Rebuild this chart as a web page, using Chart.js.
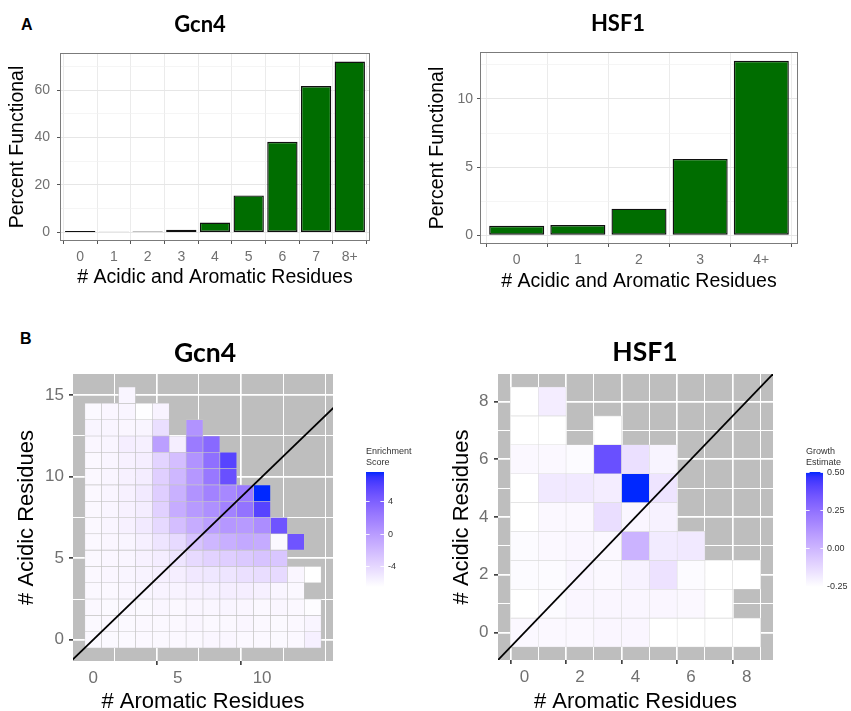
<!DOCTYPE html>
<html>
<head>
<meta charset="utf-8">
<script src="https://cdn.jsdelivr.net/npm/chart.js@4.4.1/dist/chart.umd.min.js"></script>
<style>
  html, body { margin: 0; padding: 0; background: #fff; }
  body { width: 851px; height: 711px; position: relative; overflow: hidden; }
  canvas { position: absolute; }
  .tag { position: absolute; font-family: "Liberation Sans", Arial, sans-serif; font-weight: bold;
         font-size: 16px; line-height: 1; color: #000; }
</style>
</head>
<body>
<div class="tag" style="left:21px;top:17px">A</div>
<div class="tag" style="left:20px;top:331px">B</div>

<canvas id="barGcn4" width="425" height="300" style="left:0;top:0"></canvas>
<canvas id="barHsf1" width="426" height="300" style="left:425px;top:0"></canvas>
<canvas id="heatGcn4" width="360" height="411" style="left:0;top:300px"></canvas>
<canvas id="heatHsf1" width="375" height="411" style="left:425px;top:300px"></canvas>
<canvas id="keyGcn4" width="60" height="160" style="left:360px;top:440px"></canvas>
<canvas id="keyHsf1" width="51" height="160" style="left:800px;top:440px"></canvas>

<script>
// ---------------- data ----------------
// Panel A: percent of functional sequences by number of acidic + aromatic residues
const gcn4Counts = ['0', '1', '2', '3', '4', '5', '6', '7', '8+'];
const gcn4Functional = [0.6, 0.3, 0.4, 1.1, 4.2, 15.6, 38.2, 61.7, 72.0];
const gcn4PercentMajor = [0, 20, 40, 60];
const gcn4PercentMinor = [10, 30, 50, 70];

const hsf1Counts = ['0', '1', '2', '3', '4+'];
const hsf1Functional = [0.7, 0.75, 1.95, 5.6, 12.8];
const hsf1PercentMajor = [0, 5, 10];
const hsf1PercentMinor = [2.5, 7.5, 12.5];

// Panel B: Gcn4 enrichment score, rows = # acidic (0..15), columns = # aromatic (0..13)
const gcn4Aromatic = [0, 1, 2, 3, 4, 5, 6, 7, 8, 9, 10, 11, 12, 13];
const gcn4Acidic = [0, 1, 2, 3, 4, 5, 6, 7, 8, 9, 10, 11, 12, 13, 14, 15];
const gcn4Enrichment = [
  [-6.1, -6.1, -6.1, -6.0, -6.0, -6.0, -6.0, -5.9, -5.9, -6.0, -6.0, -6.1, -6.0, -5.5],
  [-6.1, -6.0, -6.1, -6.0, -6.0, -6.0, -5.9, -6.0, -6.0, -5.9, -6.0, -6.1, -6.0, -5.8],
  [-6.0, -6.1, -6.0, -6.1, -5.9, -6.0, -5.9, -5.9, -5.8, -5.9, -6.0, -5.9, -6.0, -6.3],
  [-6.0, -6.0, -5.9, -5.8, -5.7, -5.7, -5.6, -5.5, -5.4, -5.4, -5.5, -5.8, -6.0, null],
  [-6.0, -5.9, -5.8, -5.7, -5.5, -5.4, -5.0, -4.9, -4.8, -4.5, -4.3, -4.1, -5.9, -6.46],
  [-6.0, -5.9, -5.8, -5.6, -5.3, -4.8, -4.1, -3.6, -3.3, -3.0, -2.6, -2.8, null, null],
  [-6.0, -5.9, -5.8, -5.5, -4.8, -4.1, -2.6, -1.8, -1.3, -0.9, -1.0, -6.1, 4.8, null],
  [-6.0, -5.8, -5.6, -5.1, -4.0, -2.3, -1.1, -0.2, 0.3, 0.1, 1.0, 4.8, null, null],
  [-6.0, -5.8, -5.6, -5.3, -3.5, -1.1, 0.1, 0.8, 1.7, 2.7, 5.9, null, null, null],
  [-6.0, -5.8, -5.6, -5.1, -3.3, -1.4, 0.6, 1.7, 1.3, 2.2, 7.62, null, null, null],
  [-6.0, -5.8, -5.6, -5.3, -3.4, -1.8, 0.3, 2.4, 5.1, null, null, null, null, null],
  [-6.0, -5.8, -5.6, -5.4, -3.7, -2.3, 0.6, 3.0, 5.9, null, null, null, null, null],
  [-5.9, -5.8, -5.4, -5.5, -0.2, -5.4, 2.2, 3.4, null, null, null, null, null, null],
  [-5.8, -5.8, -5.9, -5.8, -4.4, null, 0.6, null, null, null, null, null, null, null],
  [-6.1, -5.9, -5.8, -6.4, -5.7, null, null, null, null, null, null, null, null, null],
  [null, null, -5.8, null, null, null, null, null, null, null, null, null, null, null]
];
const gcn4AxisMajor = [0, 5, 10, 15];
const gcn4AxisMinor = [2.5, 7.5, 12.5];
const gcn4ScoreTicks = [-4, 0, 4];

// Panel B: HSF1 growth estimate, rows = # acidic (0..8), columns = # aromatic (0..8)
const hsf1Aromatic = [0, 1, 2, 3, 4, 5, 6, 7, 8];
const hsf1Acidic = [0, 1, 2, 3, 4, 5, 6, 7, 8];
const hsf1Growth = [
  [-0.229, -0.229, -0.229, -0.222, -0.222, -0.252, -0.252, -0.252, -0.252],
  [-0.252, -0.237, -0.222, -0.222, -0.222, -0.222, -0.229, -0.252, null],
  [-0.237, -0.237, -0.222, -0.229, -0.207, -0.154, -0.237, -0.252, -0.252],
  [-0.237, -0.229, -0.222, -0.229, 0.013, -0.184, -0.176, null, null],
  [-0.252, -0.229, -0.229, -0.138, -0.222, -0.207, null, null, null],
  [-0.252, -0.176, -0.176, -0.191, 0.505, -0.161, null, null, null],
  [-0.229, -0.229, -0.237, 0.369, -0.146, -0.214, null, null, null],
  [-0.252, -0.252, null, -0.252, null, null, null, null, null],
  [-0.252, -0.191, null, null, null, null, null, null, null]
];
const hsf1AxisMajor = [0, 2, 4, 6, 8];
const hsf1AxisMinor = [1, 3, 5, 7];
const hsf1GrowthTicks = [-0.25, 0, 0.25, 0.5];

// ---------------- styling helpers ----------------
const FONT = '"Liberation Sans", Arial, sans-serif';
const TITLE_FONT = 'Lato, "Open Sans", sans-serif';

// white -> blue gradient interpolated in CIE Lab
function toLinear(c) { c /= 255; return c <= 0.04045 ? c / 12.92 : Math.pow((c + 0.055) / 1.055, 2.4); }
function toSrgb(c) { c = Math.max(0, Math.min(1, c)); return Math.round(255 * (c <= 0.0031308 ? 12.92 * c : 1.055 * Math.pow(c, 1 / 2.4) - 0.055)); }
function rgbToLab(rgb) {
  const [R, G, B] = rgb.map(toLinear);
  const X = (0.4124 * R + 0.3576 * G + 0.1805 * B) / 0.95047;
  const Y = 0.2126 * R + 0.7152 * G + 0.0722 * B;
  const Z = (0.0193 * R + 0.1192 * G + 0.9505 * B) / 1.08883;
  const f = t => t > 0.008856 ? Math.cbrt(t) : 7.787 * t + 16 / 116;
  return [116 * f(Y) - 16, 500 * (f(X) - f(Y)), 200 * (f(Y) - f(Z))];
}
function labToRgb([L, a, b]) {
  const fy = (L + 16) / 116, fx = fy + a / 500, fz = fy - b / 200;
  const inv = t => (t * t * t > 0.008856) ? t * t * t : (t - 16 / 116) / 7.787;
  const X = 0.95047 * inv(fx), Y = inv(fy), Z = 1.08883 * inv(fz);
  return [
    toSrgb(3.2406 * X - 1.5372 * Y - 0.4986 * Z),
    toSrgb(-0.9689 * X + 1.8758 * Y + 0.0415 * Z),
    toSrgb(0.0557 * X - 0.2040 * Y + 1.0570 * Z)
  ];
}
const LAB_LOW = rgbToLab([255, 255, 255]);
const LAB_HIGH = rgbToLab([0, 40, 255]);
function gradientColor(t) {
  t = Math.max(0, Math.min(1, t));
  const lab = LAB_LOW.map((v, i) => v + (LAB_HIGH[i] - v) * t);
  const [r, g, b] = labToRgb(lab);
  return `rgb(${r},${g},${b})`;
}

// fills / outlines the plotting panel
const panelFrame = {
  id: 'panelFrame',
  beforeDraw(chart, args, opts) {
    if (!opts.fill) return;
    const a = chart.chartArea, c = chart.ctx;
    c.save(); c.fillStyle = opts.fill;
    c.fillRect(a.left, a.top, a.right - a.left, a.bottom - a.top); c.restore();
  },
  afterDraw(chart, args, opts) {
    if (!opts.stroke) return;
    const a = chart.chartArea, c = chart.ctx;
    c.save(); c.strokeStyle = opts.stroke; c.lineWidth = 1;
    c.strokeRect(a.left + 0.5, a.top + 0.5, a.right - a.left - 1, a.bottom - a.top - 1); c.restore();
  }
};
// places the chart title at a chosen horizontal centre
const titleCenter = {
  id: 'titleCenter',
  afterLayout(chart, args, opts) {
    const t = chart.titleBlock;
    if (!t || opts.x == null) return;
    const half = (t.right - t.left) / 2;
    t.left = opts.x - half; t.right = opts.x + half;
  }
};
const fixedTicks = values => scale => { scale.ticks = values.map(v => ({ value: v })); };
const tickVal = ctx => (ctx.tick ? ctx.tick.value : NaN);

// ---------------- panel A: bar charts ----------------
function functionalBars(id, labels, values, major, minor, L) {
  const top = Math.max(...values), pad = top * 0.05;
  const yTicks = major.concat(minor).sort((a, b) => a - b);
  return new Chart(document.getElementById(id), {
    type: 'bar',
    data: {
      datasets: [{
        data: values.map((v, i) => ({ x: i, y: v })),
        backgroundColor: '#006d00', borderColor: '#101010', borderWidth: 1.4,
        borderSkipped: false, barPercentage: 0.9, categoryPercentage: 1
      }]
    },
    plugins: [panelFrame, titleCenter],
    options: {
      responsive: false, animation: false, events: [],
      layout: { padding: { left: 0, right: L.padRight, top: 0, bottom: 0 } },
      plugins: {
        legend: { display: false }, tooltip: { enabled: false },
        title: { display: true, text: L.title, color: '#000',
                 font: { family: TITLE_FONT, size: 22, weight: 'bold', lineHeight: 1.2 },
                 padding: { top: L.titleTop, bottom: L.titleBottom } },
        titleCenter: { x: L.titleX },
        panelFrame: { stroke: '#7b7b7b' }
      },
      scales: {
        x: {
          type: 'linear', min: -0.6, max: labels.length - 0.4, offset: false,
          afterBuildTicks: fixedTicks(labels.map((_, i) => i)),
          afterFit: s => { s.height = L.xAxisH; },
          ticks: { callback: v => labels[v], autoSkip: false, maxRotation: 0,
                   font: { family: FONT, size: 14 }, color: '#707070', padding: L.xTickPad },
          grid: { color: '#ebebeb', lineWidth: 1, tickColor: '#555', tickLength: 3 },
          border: { display: false },
          title: { display: true, text: '# Acidic and Aromatic Residues', color: '#000',
                   font: { family: FONT, size: 19.5, lineHeight: 1.2 }, padding: { top: 0, bottom: L.xTitleBottom } }
        },
        y: {
          min: -pad, max: top + pad,
          afterBuildTicks: fixedTicks(yTicks),
          afterFit: s => { s.width = L.yAxisW; },
          ticks: { callback: v => major.includes(v) ? String(v) : '', autoSkip: false,
                   font: { family: FONT, size: 14 }, color: '#707070', padding: L.yTickPad },
          grid: {
            color: c => major.includes(tickVal(c)) ? '#e6e6e6' : '#f1f1f1',
            lineWidth: c => major.includes(tickVal(c)) ? 1 : 0.7,
            tickColor: c => major.includes(tickVal(c)) ? '#555' : 'transparent', tickLength: 3
          },
          border: { display: false },
          title: { display: true, text: 'Percent Functional', color: '#000',
                   font: { family: FONT, size: 19.5, lineHeight: 1.2 }, padding: { top: L.yTitleTop, bottom: 0 } }
        }
      }
    }
  });
}

functionalBars('barGcn4', gcn4Counts, gcn4Functional, gcn4PercentMajor, gcn4PercentMinor, {
  title: 'Gcn4', titleX: 200, titleTop: 11.8, titleBottom: 14.8, padRight: 55,
  yAxisW: 60, yTickPad: 7, yTitleTop: 6.3, xAxisH: 59, xTickPad: 4.6, xTitleBottom: 10.3
});
functionalBars('barHsf1', hsf1Counts, hsf1Functional, hsf1PercentMajor, hsf1PercentMinor, {
  title: 'HSF1', titleX: 193, titleTop: 10.8, titleBottom: 14.8, padRight: 53,
  yAxisW: 55, yTickPad: 4, yTitleTop: 0.8, xAxisH: 56, xTickPad: 4.6, xTitleBottom: 6.8
});

// ---------------- panel B: tile maps ----------------
function residueHeatmap(id, aromatic, acidic, matrix, major, minor, L) {
  const values = matrix.flat().filter(v => v !== null);
  const lo = Math.min(...values), hi = Math.max(...values);
  const tiles = [];
  acidic.forEach((ac, i) => aromatic.forEach((ar, j) => {
    const v = matrix[i][j];
    if (v !== null) tiles.push({ x: ar, y: [ac - 0.5, ac + 0.5], v });
  }));
  const x0 = aromatic[0] - 0.5, x1 = aromatic[aromatic.length - 1] + 0.5;
  const y0 = acidic[0] - 0.5, y1 = acidic[acidic.length - 1] + 0.5;
  const xLim = [x0 - 0.05 * (x1 - x0), x1 + 0.05 * (x1 - x0)];
  const yLim = [y0 - 0.05 * (y1 - y0), y1 + 0.05 * (y1 - y0)];
  const dLo = Math.min(xLim[0], yLim[0]), dHi = Math.max(xLim[1], yLim[1]);
  const breaks = major.concat(minor).sort((a, b) => a - b);
  const isMajor = c => major.includes(tickVal(c));
  const axis = (lim, extra) => Object.assign({
    type: 'linear', min: lim[0], max: lim[1], offset: false,
    afterBuildTicks: fixedTicks(breaks.filter(v => v >= lim[0] && v <= lim[1])),
    ticks: { callback: v => major.includes(v) ? String(v) : '', autoSkip: false, maxRotation: 0,
             font: { family: FONT, size: 17 }, color: '#707070' },
    grid: { color: '#ffffff', lineWidth: c => isMajor(c) ? 1.7 : 1.0,
            tickColor: c => isMajor(c) ? '#444' : 'transparent', tickLength: 4 },
    border: { display: false }
  }, extra);

  new Chart(document.getElementById(id), {
    type: 'bar',
    data: {
      datasets: [
        { type: 'line', data: [{ x: dLo, y: dLo }, { x: dHi, y: dHi }], borderColor: '#000',
          borderWidth: 1.8, pointRadius: 0, clip: 0, order: 0 },
        { type: 'bar', data: tiles, order: 1, grouped: false,
          backgroundColor: c => c.raw ? gradientColor((c.raw.v - lo) / (hi - lo)) : 'transparent',
          borderColor: L.tileEdge, borderWidth: 0.6, borderSkipped: false,
          barPercentage: 1, categoryPercentage: 1 }
      ]
    },
    plugins: [panelFrame, titleCenter],
    options: {
      responsive: false, animation: false, events: [],
      layout: { padding: { left: 0, right: L.padRight, top: 0, bottom: 0 } },
      plugins: {
        legend: { display: false }, tooltip: { enabled: false },
        title: { display: true, text: L.title, color: '#000',
                 font: { family: TITLE_FONT, size: 26.5, weight: 'bold', lineHeight: 1.2 },
                 padding: { top: L.titleTop, bottom: L.titleBottom } },
        titleCenter: { x: L.titleX },
        panelFrame: { fill: '#bebebe' }
      },
      scales: {
        x: axis(xLim, {
          afterFit: s => { s.height = L.xAxisH; },
          title: { display: true, text: '# Aromatic Residues', color: '#000',
                   font: { family: FONT, size: 22, lineHeight: 0.8 }, padding: { top: 0, bottom: L.xTitleBottom } }
        }),
        y: axis(yLim, {
          afterFit: s => { s.width = L.yAxisW; },
          title: { display: true, text: '# Acidic Residues', color: '#000',
                   font: { family: FONT, size: 22, lineHeight: 1.2 }, padding: { top: L.yTitleTop, bottom: 0 } }
        })
      }
    }
  });
  return { lo, hi };
}

function setTickPads(chartId, xPad, yPad) {
  const ch = Chart.getChart(chartId);
  ch.options.scales.x.ticks.padding = xPad;
  ch.options.scales.y.ticks.padding = yPad;
  ch.update('none');
}

const gcn4Range = residueHeatmap('heatGcn4', gcn4Aromatic, gcn4Acidic, gcn4Enrichment, gcn4AxisMajor, gcn4AxisMinor, {
  title: 'Gcn4', titleX: 205, titleTop: 37.1, titleBottom: 5.1, padRight: 27,
  yAxisW: 73, yTitleTop: 13.5, xAxisH: 50, xTitleBottom: 0.7, tileEdge: '#c4c4c4'
});
setTickPads('heatGcn4', 3, 5);

const hsf1Range = residueHeatmap('heatHsf1', hsf1Aromatic, hsf1Acidic, hsf1Growth, hsf1AxisMajor, hsf1AxisMinor, {
  title: 'HSF1', titleX: 220, titleTop: 36.1, titleBottom: 6.1, padRight: 27,
  yAxisW: 73, yTitleTop: 23.5, xAxisH: 51, xTitleBottom: 0.5, tileEdge: '#dcdcdc'
});
setTickPads('heatHsf1', 3.5, 5.5);

// ---------------- colour keys ----------------
function colourKey(id, titleLines, range, ticks, fmt, axisW) {
  new Chart(document.getElementById(id), {
    type: 'bar',
    data: {
      labels: [''],
      datasets: [{
        data: [[range.lo, range.hi]],
        backgroundColor: c => {
          const area = c.chart.chartArea;
          if (!area) return '#fff';
          const g = c.chart.ctx.createLinearGradient(0, area.bottom, 0, area.top);
          for (let i = 0; i <= 24; i++) g.addColorStop(i / 24, gradientColor(i / 24));
          return g;
        },
        borderWidth: 0, barPercentage: 1, categoryPercentage: 1
      }]
    },
    options: {
      responsive: false, animation: false, events: [],
      layout: { padding: { left: 6, right: 0, top: 0, bottom: 13 } },
      plugins: {
        legend: { display: false }, tooltip: { enabled: false },
        title: { display: true, text: titleLines, align: 'start', color: '#333',
                 font: { family: FONT, size: 9, weight: 'normal', lineHeight: 1.2 },
                 padding: { top: 6, bottom: 4.4 } }
      },
      scales: {
        x: { display: false },
        y: {
          position: 'right', min: range.lo, max: range.hi,
          afterBuildTicks: fixedTicks(ticks),
          afterFit: s => { s.width = axisW; },
          ticks: { callback: fmt, autoSkip: false, font: { family: FONT, size: 9 }, color: '#333', padding: 4 },
          grid: { drawTicks: false, color: 'rgba(255,255,255,0.9)', lineWidth: 1, z: 1 },
          border: { display: false, dash: [3.6, 10.8] }
        }
      }
    }
  });
}
colourKey('keyGcn4', ['Enrichment', 'Score'], gcn4Range, gcn4ScoreTicks, v => String(v), 36);
colourKey('keyHsf1', ['Growth', 'Estimate'], hsf1Range, hsf1GrowthTicks, v => v.toFixed(2), 28);
</script>
</body>
</html>
